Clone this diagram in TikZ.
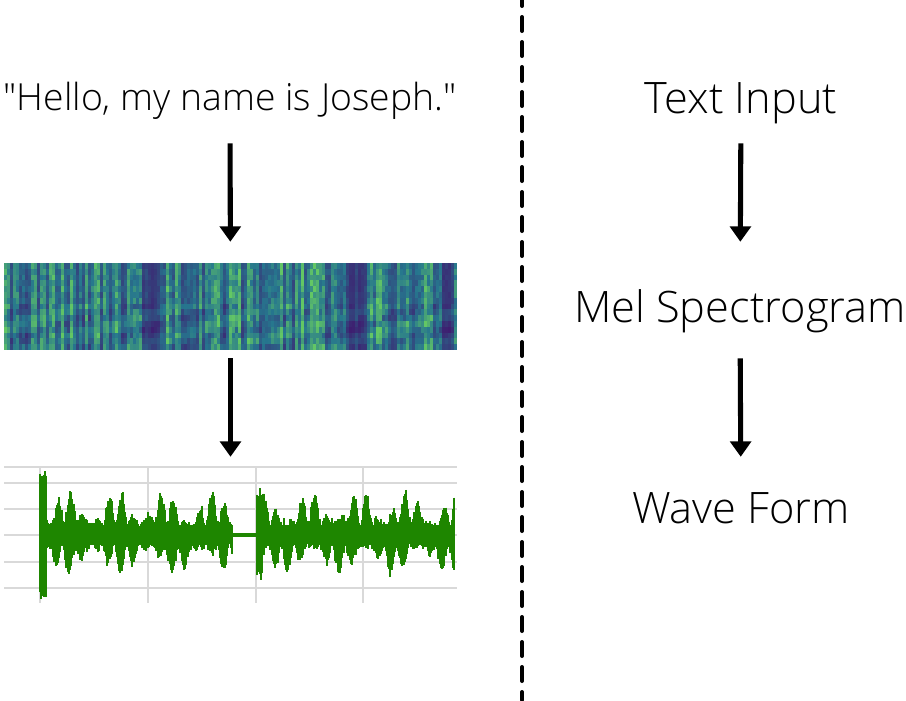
\documentclass[tikz,border=0pt]{standalone}
\usepackage{fontspec}
\setmainfont{Open Sans}[UprightFont={* Light}]
\usetikzlibrary{arrows.meta,positioning}
\definecolor{vdk}{RGB}{62,30,112}
\definecolor{vtl}{RGB}{38,118,142}
\definecolor{vgr}{RGB}{100,200,100}
\definecolor{wavegreen}{RGB}{30,134,0}

\begin{document}
\begin{tikzpicture}
[x=0.75pt,y=-0.75pt,
 stage/.style={inner sep=0pt,anchor=base,text height=24pt,text depth=8pt,
	font=\fontsize{32.5}{40}\selectfont},
 pane/.style={inner sep=0pt,minimum width=339.75pt},
 arr/.style={-{Triangle[width=15.5pt,length=11.5pt]},line width=3.8pt},
 gridline/.style={gray!30,line width=1pt},
 wavebar/.style={wavegreen,line width=1.5pt}]
\useasboundingbox (0,0) rectangle (906,700);
% left column
\node[stage,font=\fontsize{28}{34}\selectfont] (hello) at (230,110) {\textquotedbl Hello, my name is Joseph.\textquotedbl};
\node[pane,minimum height=65.25pt] (spec) at (230.5,306.5) {};
\node[pane,minimum height=103.5pt] (wave) at (230.5,534) {};
% spectrogram
\pgfmathsetseed{11}
\foreach \i in {0,...,150}{
	\pgfmathsetmacro\xx{4+3*\i}
	\pgfmathsetmacro\c{((\xx>140)&&(\xx<160))||((\xx>343)&&(\xx<366))||((\xx>440)&&(\xx<452)) ? 0.1+0.15*rnd : 0.3+0.6*pow(rnd,1.3)}
	\foreach \j in {0,...,14}{
		\pgfmathtruncatemacro\pa{min(199,max(0,200*\c*(0.7+0.5*rnd)+24*sin(\j*75+\i*11)*(\j>6)))}
		\ifnum\pa<100 \edef\col{vtl!\pa!vdk}\else
		\pgfmathtruncatemacro\pb{\pa-100}\edef\col{vgr!\pb!vtl}\fi
		\fill[\col] (\xx,263+5.8*\j) rectangle ++(3.4,6.2);
	}
}
% wave form
\foreach \y in {467,483,509,535,562,588}
	\draw[gridline] (4,\y) -- (457,\y);
\foreach \x in {40,148,256,363}
	\draw[gridline] (\x,467) -- (\x,603);
\foreach \x in {40,41.2,...,455}{
	\pgfmathsetmacro\up{\x<47 ? 55+10*rnd : ((\x>232)&&(\x<256) ? 1.6 : ((\x>=256)&&(\x<263) ? 38+12*rnd : 9+32*pow(abs(sin(\x*14)*sin(\x*3.7+20)),1.7)+8*rnd*rnd))}
	\pgfmathsetmacro\dn{\x<47 ? 55+10*rnd : ((\x>232)&&(\x<256) ? 1.6 : ((\x>=256)&&(\x<263) ? 34+12*rnd : 9+28*pow(abs(sin(\x*14+25)*sin(\x*3.3+50)),1.7)+8*rnd*rnd))}
	\draw[wavebar] (\x,535-\up) -- (\x,535+\dn);
}
% right column
\node[stage] (textin) at (741,113) {Text Input};
\node[stage] (mel) at (740,322) {Mel Spectrogram};
\node[stage] (wform) at (741,523) {Wave Form};
% arrows
\draw[arr,shorten <=16.75pt,shorten >=15.75pt] (hello) -- (spec);
\draw[arr,shorten <=6pt,shorten >=6pt] (spec) -- (wave);
\draw[arr,shorten <=14.5pt,shorten >=36pt] (textin) -- (mel);
\draw[arr,shorten <=19pt,shorten >=25.5pt] (mel) -- (wform);
% divider
\draw[line width=3pt,line cap=round,dash pattern=on 10.5pt off 8.25pt,dash phase=6pt] (522,0) -- (522,700);
\end{tikzpicture}
\end{document}
